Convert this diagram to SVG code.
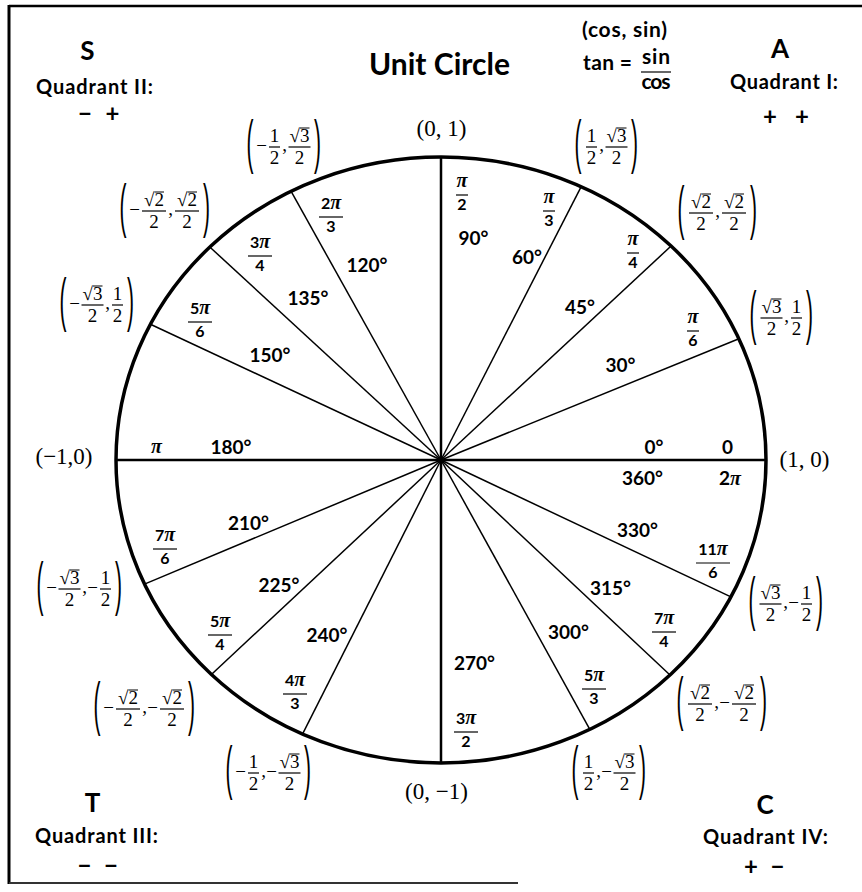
<svg xmlns="http://www.w3.org/2000/svg" width="862" height="892" viewBox="0 0 862 892">
<style>
text { font-family: Lato, "Liberation Sans", sans-serif; fill: #000; }
.b { font-weight: bold; }
.m { text-anchor: middle; }
.deg { font-size: 19px; font-weight: bold; text-anchor: middle; }
.fr { font-size: 16px; font-weight: bold; text-anchor: middle; }
.pi { font-family: "Liberation Serif", serif; font-style: italic; font-weight: bold; font-size: 20px; }
.c { font-family: "Liberation Serif", serif; font-size: 19px; text-anchor: middle; }
.ax { font-family: "Liberation Serif", serif; font-size: 23px; text-anchor: middle; }
.par { font-family: "Liberation Sans", sans-serif; font-size: 60px; text-anchor: middle; }
.bar { stroke: #000; stroke-width: 1.2; }
.vin { stroke: #000; stroke-width: 1; }
.spoke { stroke: #000; stroke-width: 1.5; }
.axis { stroke: #000; stroke-width: 2.5; }
.q { font-size: 20px; font-weight: bold; text-anchor: middle; }
.big { font-size: 26px; font-weight: bold; text-anchor: middle; }
.sg { font-size: 24px; font-weight: bold; text-anchor: middle; }
.t { font-size: 21px; font-weight: bold; }
</style>
<defs>
<g id="f1"><text class="c" x="0" y="-5">1</text><line class="bar" x1="-5.5" y1="0" x2="5.5" y2="0"/><text class="c" x="0" y="17">2</text></g>
<g id="s3"><text class="c" x="0" y="-5">√3</text><line class="vin" x1="0.5" y1="-19" x2="10" y2="-19"/><line class="bar" x1="-11" y1="0" x2="11" y2="0"/><text class="c" x="0" y="17">2</text></g>
<g id="s2"><text class="c" x="0" y="-5">√2</text><line class="vin" x1="0.5" y1="-19" x2="10" y2="-19"/><line class="bar" x1="-12" y1="0" x2="12" y2="0"/><text class="c" x="0" y="17">2</text></g>
</defs>
<rect width="862" height="892" fill="#fff"/>
<g id="frame" stroke="#000" fill="none">
<line x1="9" y1="6" x2="862" y2="6" stroke-width="2.5"/>
<line x1="9" y1="5" x2="9" y2="884" stroke-width="3"/>
<line x1="9" y1="883" x2="518" y2="883" stroke-width="2" stroke="#333"/>
</g>
<g id="connectors">
<line class="spoke" x1="441" y1="460" x2="581.2" y2="186.6"/>
<line class="spoke" x1="441" y1="460" x2="671.1" y2="246"/>
<line class="spoke" x1="441" y1="460" x2="738.9" y2="338.8"/>
<line class="spoke" x1="441" y1="460" x2="730.9" y2="596.9"/>
<line class="spoke" x1="441" y1="460" x2="670" y2="675"/>
<line class="spoke" x1="441" y1="460" x2="589.8" y2="729.4"/>
<line class="spoke" x1="441" y1="460" x2="302.5" y2="734.1"/>
<line class="spoke" x1="441" y1="460" x2="211.4" y2="674.5"/>
<line class="spoke" x1="441" y1="460" x2="144.5" y2="584.1"/>
<line class="spoke" x1="441" y1="460" x2="150.4" y2="324.3"/>
<line class="spoke" x1="441" y1="460" x2="209.8" y2="247"/>
<line class="spoke" x1="441" y1="460" x2="291" y2="191.2"/>
<line class="axis" x1="116" y1="460" x2="766" y2="460"/>
<line class="axis" x1="441" y1="157" x2="441" y2="763"/>
</g>
<g id="circle"><ellipse cx="441" cy="460" rx="325" ry="303" fill="none" stroke="#000" stroke-width="3.5"/></g>

<g id="title">
<text class="b m" x="439.5" y="75" font-size="30" textLength="141">Unit Circle</text>
<text class="t m" x="624.5" y="37" textLength="85">(cos, sin)</text>
<text class="t" x="583" y="70" textLength="49">tan =</text>
<text class="t m" x="656" y="64" textLength="28">sin</text>
<line class="bar" x1="641" y1="72" x2="671" y2="72"/>
<text class="t m" x="656" y="89" textLength="29">cos</text>
</g>

<g id="quadrant-1"><text class="big" x="780" y="58">A</text><text class="q" x="784" y="89" textLength="108">Quadrant I:</text><text class="sg" x="770" y="125">+</text><text class="sg" x="802" y="125">+</text></g>
<g id="quadrant-2"><text class="big" x="87.5" y="60">S</text><text class="q" x="94.5" y="94" textLength="117">Quadrant II:</text><text class="sg" x="85" y="122">−</text><text class="sg" x="112.5" y="122">+</text></g>
<g id="quadrant-3"><text class="big" x="92.5" y="812">T</text><text class="q" x="96.5" y="843" textLength="123">Quadrant III:</text><text class="sg" x="84.5" y="874">−</text><text class="sg" x="111" y="874">−</text></g>
<g id="quadrant-4"><text class="big" x="765" y="814">C</text><text class="q" x="765.5" y="844" textLength="125">Quadrant IV:</text><text class="sg" x="751" y="875">+</text><text class="sg" x="777.5" y="875">−</text></g>

<g id="axis-points">
<text class="ax" x="441.5" y="136">(0, 1)</text>
<text class="ax" x="804.5" y="467">(1, 0)</text>
<text class="ax" x="64" y="464">(−1,0)</text>
<text class="ax" x="436.5" y="799">(0, −1)</text>
</g>

<g id="degrees">
<text class="deg" x="473.5" y="245">90°</text>
<text class="deg" x="527" y="264">60°</text>
<text class="deg" x="580" y="314">45°</text>
<text class="deg" x="620.5" y="372">30°</text>
<text class="deg" x="654" y="454">0°</text>
<text class="deg" x="642.5" y="485">360°</text>
<text class="deg" x="637.5" y="537">330°</text>
<text class="deg" x="610.5" y="595">315°</text>
<text class="deg" x="568.5" y="639">300°</text>
<text class="deg" x="474.5" y="670">270°</text>
<text class="deg" x="327" y="642">240°</text>
<text class="deg" x="279" y="592">225°</text>
<text class="deg" x="248.5" y="530">210°</text>
<text class="deg" x="231" y="454">180°</text>
<text class="deg" x="270" y="362">150°</text>
<text class="deg" x="308" y="305">135°</text>
<text class="deg" x="367" y="272">120°</text>
</g>

<g id="radians">
<g transform="translate(462,195)"><text class="fr" y="-8"><tspan class="pi">π</tspan></text><line class="bar" x1="-6" x2="6"/><text class="fr" y="15">2</text></g>
<g transform="translate(549,211)"><text class="fr" y="-8"><tspan class="pi">π</tspan></text><line class="bar" x1="-6" x2="6"/><text class="fr" y="15">3</text></g>
<g transform="translate(633,253)"><text class="fr" y="-8"><tspan class="pi">π</tspan></text><line class="bar" x1="-6" x2="6"/><text class="fr" y="15">4</text></g>
<g transform="translate(693,331)"><text class="fr" y="-8"><tspan class="pi">π</tspan></text><line class="bar" x1="-6" x2="6"/><text class="fr" y="15">6</text></g>
<text class="deg" x="727.5" y="454">0</text>
<text class="deg" x="730" y="485">2<tspan class="pi" font-size="21">π</tspan></text>
<g transform="translate(713,563)"><text class="fr" y="-8">11<tspan class="pi">π</tspan></text><line class="bar" x1="-17" x2="17"/><text class="fr" y="15">6</text></g>
<g transform="translate(664,632)"><text class="fr" y="-8">7<tspan class="pi">π</tspan></text><line class="bar" x1="-12" x2="12"/><text class="fr" y="15">4</text></g>
<g transform="translate(594,689)"><text class="fr" y="-8">5<tspan class="pi">π</tspan></text><line class="bar" x1="-12" x2="12"/><text class="fr" y="15">3</text></g>
<g transform="translate(466,732)"><text class="fr" y="-8">3<tspan class="pi">π</tspan></text><line class="bar" x1="-12" x2="12"/><text class="fr" y="15">2</text></g>
<g transform="translate(295,694)"><text class="fr" y="-8">4<tspan class="pi">π</tspan></text><line class="bar" x1="-12" x2="12"/><text class="fr" y="15">3</text></g>
<g transform="translate(220,635)"><text class="fr" y="-8">5<tspan class="pi">π</tspan></text><line class="bar" x1="-12" x2="12"/><text class="fr" y="15">4</text></g>
<g transform="translate(165,549)"><text class="fr" y="-8">7<tspan class="pi">π</tspan></text><line class="bar" x1="-12" x2="12"/><text class="fr" y="15">6</text></g>
<text class="fr" x="156.5" y="453"><tspan class="pi" font-size="21">π</tspan></text>
<g transform="translate(200,322)"><text class="fr" y="-8">5<tspan class="pi">π</tspan></text><line class="bar" x1="-12" x2="12"/><text class="fr" y="15">6</text></g>
<g transform="translate(260,256)"><text class="fr" y="-8">3<tspan class="pi">π</tspan></text><line class="bar" x1="-12" x2="12"/><text class="fr" y="15">4</text></g>
<g transform="translate(331,217)"><text class="fr" y="-8">2<tspan class="pi">π</tspan></text><line class="bar" x1="-12" x2="12"/><text class="fr" y="15">3</text></g>
</g>

<g id="coord-60" transform="translate(573,147)">
<text class="par" transform="translate(5,14.6) scale(0.35,1)">(</text>
<use href="#f1" x="18.5"/><text class="c" x="28.5" y="4">,</text><use href="#s3" x="43.5"/>
<text class="par" transform="translate(61.5,14.6) scale(0.35,1)">)</text>
</g>
<g id="coord-45" transform="translate(676,213)">
<text class="par" transform="translate(5,14.6) scale(0.35,1)">(</text>
<use href="#s2" x="25"/><text class="c" x="41.5" y="4">,</text><use href="#s2" x="58"/>
<text class="par" transform="translate(77.5,14.6) scale(0.35,1)">)</text>
</g>
<g id="coord-30" transform="translate(748,318)">
<text class="par" transform="translate(5,14.6) scale(0.35,1)">(</text>
<use href="#s3" x="23.5"/><text class="c" x="38.5" y="4">,</text><use href="#f1" x="48.5"/>
<text class="par" transform="translate(61.5,14.6) scale(0.35,1)">)</text>
</g>
<g id="coord-120" transform="translate(245,147)">
<text class="par" transform="translate(5,14.6) scale(0.35,1)">(</text>
<text class="c" x="16.5" y="5">−</text><use href="#f1" x="29.5"/><text class="c" x="39.5" y="4">,</text><use href="#s3" x="54.5"/>
<text class="par" transform="translate(72.5,14.6) scale(0.35,1)">)</text>
</g>
<g id="coord-135" transform="translate(118,211)">
<text class="par" transform="translate(5,14.6) scale(0.35,1)">(</text>
<text class="c" x="16.5" y="5">−</text><use href="#s2" x="36"/><text class="c" x="52.5" y="4">,</text><use href="#s2" x="69"/>
<text class="par" transform="translate(88.5,14.6) scale(0.35,1)">)</text>
</g>
<g id="coord-150" transform="translate(58,305)">
<text class="par" transform="translate(5,14.6) scale(0.35,1)">(</text>
<text class="c" x="16.5" y="5">−</text><use href="#s3" x="34.5"/><text class="c" x="49.5" y="4">,</text><use href="#f1" x="59.5"/>
<text class="par" transform="translate(72.5,14.6) scale(0.35,1)">)</text>
</g>
<g id="coord-210" transform="translate(35,589)">
<text class="par" transform="translate(5,14.6) scale(0.35,1)">(</text>
<text class="c" x="16.5" y="5">−</text><use href="#s3" x="34.5"/><text class="c" x="49.5" y="4">,</text><text class="c" x="57.5" y="5">−</text><use href="#f1" x="70.5"/>
<text class="par" transform="translate(83.5,14.6) scale(0.35,1)">)</text>
</g>
<g id="coord-225" transform="translate(92,709)">
<text class="par" transform="translate(5,14.6) scale(0.35,1)">(</text>
<text class="c" x="16.5" y="5">−</text><use href="#s2" x="36"/><text class="c" x="52.5" y="4">,</text><text class="c" x="60.5" y="5">−</text><use href="#s2" x="80"/>
<text class="par" transform="translate(99.5,14.6) scale(0.35,1)">)</text>
</g>
<g id="coord-240" transform="translate(224,773)">
<text class="par" transform="translate(5,14.6) scale(0.35,1)">(</text>
<text class="c" x="16.5" y="5">−</text><use href="#f1" x="29.5"/><text class="c" x="39.5" y="4">,</text><text class="c" x="47.5" y="5">−</text><use href="#s3" x="65.5"/>
<text class="par" transform="translate(83.5,14.6) scale(0.35,1)">)</text>
</g>
<g id="coord-300" transform="translate(570,773)">
<text class="par" transform="translate(5,14.6) scale(0.35,1)">(</text>
<use href="#f1" x="18.5"/><text class="c" x="28.5" y="4">,</text><text class="c" x="36.5" y="5">−</text><use href="#s3" x="54.5"/>
<text class="par" transform="translate(72.5,14.6) scale(0.35,1)">)</text>
</g>
<g id="coord-315" transform="translate(675,704)">
<text class="par" transform="translate(5,14.6) scale(0.35,1)">(</text>
<use href="#s2" x="25"/><text class="c" x="41.5" y="4">,</text><text class="c" x="49.5" y="5">−</text><use href="#s2" x="69"/>
<text class="par" transform="translate(88.5,14.6) scale(0.35,1)">)</text>
</g>
<g id="coord-330" transform="translate(747,604)">
<text class="par" transform="translate(5,14.6) scale(0.35,1)">(</text>
<use href="#s3" x="23.5"/><text class="c" x="38.5" y="4">,</text><text class="c" x="46.5" y="5">−</text><use href="#f1" x="59.5"/>
<text class="par" transform="translate(72.5,14.6) scale(0.35,1)">)</text>
</g>
</svg>
